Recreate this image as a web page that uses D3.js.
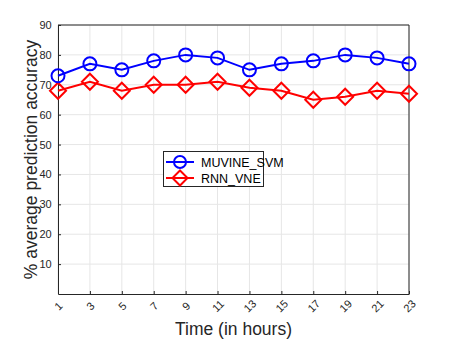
<!DOCTYPE html>
<html>
<head>
<meta charset="utf-8">
<script src="https://cdn.jsdelivr.net/npm/d3@7"></script>
<style>
  body { margin: 0; background: #fff; }
  svg { font-family: "Liberation Sans", Arial, sans-serif; }
</style>
</head>
<body>
<svg id="chart" width="452" height="339"></svg>
<script>
// data
const hours = [1, 3, 5, 7, 9, 11, 13, 15, 17, 19, 21, 23];
const muvineSvm = [73, 77, 75, 78, 80, 79, 75, 77, 78, 80, 79, 77];
const rnnVne = [68, 71, 68, 70, 70, 71, 69, 68, 65, 66, 68, 67];
const yTicks = [10, 20, 30, 40, 50, 60, 70, 80, 90];
const seriesNames = ["MUVINE_SVM", "RNN_VNE"];

const plot = { left: 58, right: 409, top: 25, bottom: 294 };
const svg = d3.select("#chart");

const x = d3.scaleLinear().domain([1, 23]).range([plot.left, plot.right]);
const y = d3.scaleLinear().domain([0, 90]).range([plot.bottom, plot.top]);

// grid
svg.append("g").selectAll("line.gx")
    .data(hours)
    .join("line")
    .attr("x1", d => x(d)).attr("x2", d => x(d))
    .attr("y1", plot.top).attr("y2", plot.bottom)
    .attr("stroke", "#e6e6e6").attr("stroke-width", 1);
svg.append("g").selectAll("line.gy")
    .data(yTicks)
    .join("line")
    .attr("x1", plot.left).attr("x2", plot.right)
    .attr("y1", d => y(d)).attr("y2", d => y(d))
    .attr("stroke", "#e6e6e6").attr("stroke-width", 1);

// box top / right
svg.append("line")
    .attr("x1", plot.left).attr("x2", plot.right)
    .attr("y1", plot.top).attr("y2", plot.top)
    .attr("stroke", "#262626");
svg.append("line")
    .attr("x1", plot.right).attr("x2", plot.right)
    .attr("y1", plot.top).attr("y2", plot.bottom)
    .attr("stroke", "#262626");

// axes
const xAxis = svg.append("g")
    .attr("transform", `translate(0,${plot.bottom})`)
    .call(d3.axisBottom(x).tickValues(hours).tickSize(-3).tickSizeOuter(0).tickFormat(d3.format("d")));
xAxis.selectAll("text")
    .attr("y", 0)
    .attr("dy", "0.35em")
    .attr("text-anchor", "middle")
    .attr("transform", "translate(0,12) rotate(-45)");

const yAxis = svg.append("g")
    .attr("transform", `translate(${plot.left},0)`)
    .call(d3.axisLeft(y).tickValues(yTicks).tickSize(-3).tickSizeOuter(0));
yAxis.selectAll("text").attr("dx", "-0.3em");

[xAxis, yAxis].forEach(a => {
    a.select(".domain").attr("stroke", "#262626");
    a.selectAll(".tick line").attr("stroke", "#262626");
    a.selectAll("text").attr("fill", "#262626").style("font-size", "11px");
});

// lines
const line = d3.line().x((d, i) => x(hours[i])).y(d => y(d));

svg.append("path")
    .datum(rnnVne)
    .attr("d", line)
    .attr("fill", "none").attr("stroke", "#ff0000").attr("stroke-width", 2);
svg.append("path")
    .datum(muvineSvm)
    .attr("d", line)
    .attr("fill", "none").attr("stroke", "#0000ff").attr("stroke-width", 2);

const diamond = (cx, cy, r) => `M${cx},${cy - r}L${cx + r},${cy}L${cx},${cy + r}L${cx - r},${cy}Z`;

svg.append("g").selectAll("path")
    .data(rnnVne)
    .join("path")
    .attr("d", (d, i) => diamond(x(hours[i]), y(d), 8))
    .attr("fill", "none").attr("stroke", "#ff0000").attr("stroke-width", 2);
svg.append("g").selectAll("circle")
    .data(muvineSvm)
    .join("circle")
    .attr("cx", (d, i) => x(hours[i]))
    .attr("cy", d => y(d))
    .attr("r", 6.5)
    .attr("fill", "none").attr("stroke", "#0000ff").attr("stroke-width", 2);

// legend
const legend = svg.append("g");
legend.append("rect")
    .attr("x", 163.5).attr("y", 151.5)
    .attr("width", 100).attr("height", 35)
    .attr("fill", "#fff").attr("stroke", "#262626").attr("stroke-width", 1);
const colors = ["#0000ff", "#ff0000"];
seriesNames.forEach((name, i) => {
    const ly = 162 + i * 16;
    legend.append("line")
        .attr("x1", 166).attr("x2", 194)
        .attr("y1", ly).attr("y2", ly)
        .attr("stroke", colors[i]).attr("stroke-width", 2);
    if (i === 0) {
        legend.append("circle").attr("cx", 180).attr("cy", ly).attr("r", 6)
            .attr("fill", "none").attr("stroke", colors[i]).attr("stroke-width", 2);
    } else {
        legend.append("path").attr("d", diamond(180, ly, 7.5))
            .attr("fill", "none").attr("stroke", colors[i]).attr("stroke-width", 2);
    }
    legend.append("text")
        .attr("x", 201).attr("y", ly + 4.5)
        .style("font-size", "12.5px")
        .attr("fill", "#000")
        .text(name);
});

// axis titles
svg.append("text")
    .attr("x", (plot.left + plot.right) / 2)
    .attr("y", 335)
    .attr("text-anchor", "middle")
    .style("font-size", "17.5px")
    .attr("fill", "#262626")
    .text("Time (in hours)");
svg.append("text")
    .attr("transform", `translate(37,${(plot.top + plot.bottom) / 2}) rotate(-90)`)
    .attr("text-anchor", "middle")
    .style("font-size", "17.5px")
    .attr("fill", "#262626")
    .text("% average prediction accuracy");
</script>
</body>
</html>
